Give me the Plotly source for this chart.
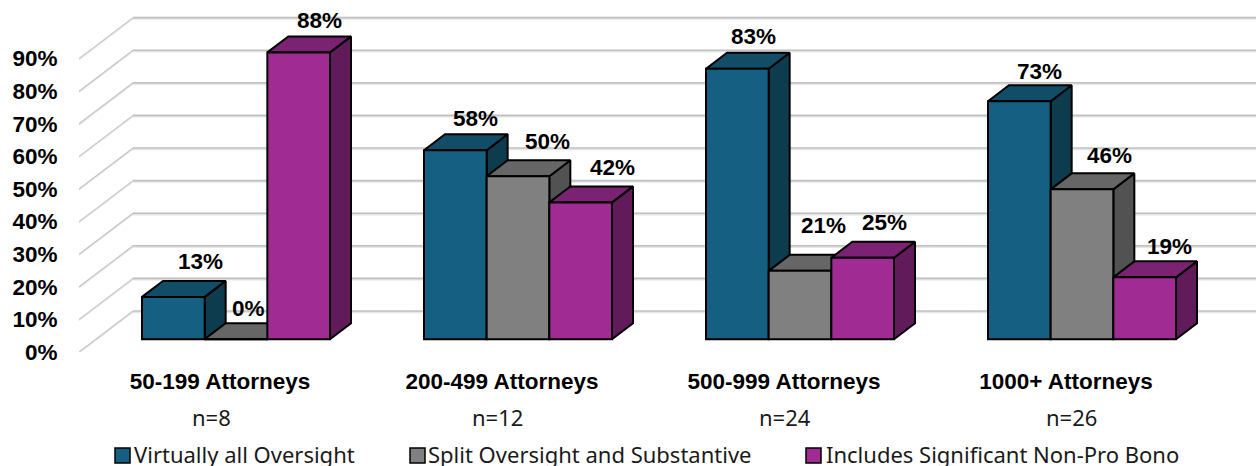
import plotly.graph_objects as go

categories = ["50-199 Attorneys", "200-499 Attorneys", "500-999 Attorneys", "1000+ Attorneys"]
sample_sizes = ["n=8", "n=12", "n=24", "n=26"]
series_names = ["Virtually all Oversight", "Split Oversight and Substantive", "Includes Significant Non-Pro Bono"]
virtually_all = [13, 58, 83, 73]
split_oversight = [0, 50, 21, 46]
non_pro_bono = [88, 42, 25, 19]
y_ticks = [0, 10, 20, 30, 40, 50, 60, 70, 80, 90]

series_values = [virtually_all, split_oversight, non_pro_bono]
front_colors = ["#156082", "#808080", "#A02B93"]
top_colors = ["#124D68", "#666666", "#7C2272"]
side_colors = ["#0E3C4F", "#525252", "#621B5A"]

W, H = 1256, 466
L, B = 79, 114
PX_X = 282.0    # pixels per category
PX_Y = 3.26     # pixels per percentage point
plot_w, plot_h = W - L, H - B
x0, x1 = -0.5, -0.5 + plot_w / PX_X
y1 = plot_h / PX_Y

WALL_DX, WALL_DY = 54 / PX_X, 41 / PX_Y
BAR_DX, BAR_DY = 21 / PX_X, 16 / PX_Y
BASE = 12.7 / PX_Y
BAR_W = 2 / 9
GROUP_LEFT = -0.2766

# label nudges in pixels relative to the centre of each bar's front-top edge
nudge_x = [[27, 20, 16, 20], [12, 29, 23, 27], [21, 32, 22, 25]]
nudge_y = [[35, 32, 32, 30], [31, 35, 45, 34], [32, 35, 35, 31]]
n_nudge_x = [-9, -5, 1, 5]

fig = go.Figure()


def wall_points(dy):
    xs, ys = [], []
    for t in y_ticks:
        xs += [x0 + WALL_DX, x1, None]
        ys += [t + WALL_DY + dy, t + WALL_DY + dy, None]
    return xs, ys


def floor_points(dy):
    xs, ys = [], []
    for t in y_ticks:
        xs += [x0, x0 + WALL_DX, None]
        ys += [t + dy, t + WALL_DY + dy, None]
    return xs, ys


for points, dy, color, width in [
    (wall_points, -1.2 / PX_Y, "#E6E6E6", 2),
    (floor_points, -1.0 / PX_Y, "#E6E6E6", 1.5),
    (wall_points, 0, "#C0C0C0", 1.6),
    (floor_points, 0, "#C4C4C4", 1.1),
]:
    xs, ys = points(dy)
    fig.add_trace(go.Scatter(x=xs, y=ys, mode="lines", line=dict(color=color, width=width),
                             showlegend=False, hoverinfo="skip", zorder=0))

for s, vals in enumerate(series_values):
    side_x, side_y, top_x, top_y = [], [], [], []
    lefts = [i + GROUP_LEFT + s * BAR_W for i in range(len(vals))]
    for left, v in zip(lefts, vals):
        r = left + BAR_W
        t = BASE + v
        side_x += [r, r + BAR_DX, r + BAR_DX, r, r, None]
        side_y += [BASE, BASE + BAR_DY, t + BAR_DY, t, BASE, None]
        top_x += [left, left + BAR_DX, r + BAR_DX, r, left, None]
        top_y += [t, t + BAR_DY, t + BAR_DY, t, t, None]
    for xs, ys, color in [(side_x, side_y, side_colors[s]), (top_x, top_y, top_colors[s])]:
        fig.add_trace(go.Scatter(x=xs, y=ys, mode="lines", fill="toself", fillcolor=color,
                                 line=dict(color="#000000", width=2), showlegend=False,
                                 hoverinfo="skip", zorder=2 * s + 1))
    fig.add_trace(go.Bar(x=list(range(len(vals))), y=vals, base=[BASE] * len(vals),
                         width=BAR_W, offset=GROUP_LEFT + s * BAR_W, name=series_names[s],
                         marker=dict(color=front_colors[s], line=dict(color="#000000", width=2)),
                         showlegend=False, zorder=2 * s + 2))

annotations = []
LABEL_FONT = dict(family="Liberation Sans", size=22.5, color="#000000")
for s, vals in enumerate(series_values):
    for i, v in enumerate(vals):
        annotations.append(dict(x=i + GROUP_LEFT + (s + 0.5) * BAR_W, y=BASE + v, xref="x", yref="y",
                                text=f"<b>{v}%</b>", showarrow=False, font=LABEL_FONT,
                                xshift=nudge_x[s][i], yshift=nudge_y[s][i],
                                xanchor="center", yanchor="middle"))

BODY_FONT = dict(family="Noto Sans", size=22, color="#1a1a1a")


def paper_x(px):
    return (px - L) / plot_w


def paper_y(py):
    return (H - B - py) / plot_h


for i, n in enumerate(sample_sizes):
    annotations.append(dict(x=i, y=paper_y(417), xref="x", yref="paper", text=n, showarrow=False,
                            font=BODY_FONT, xanchor="center", yanchor="middle", xshift=n_nudge_x[i]))

swatch_left = [115, 410, 806]
text_left = [134, 428, 826]
shapes = []
for s, name in enumerate(series_names):
    annotations.append(dict(x=paper_x(text_left[s]), y=paper_y(454), xref="paper", yref="paper", text=name,
                            showarrow=False, font=BODY_FONT, xanchor="left", yanchor="middle", xshift=-2))
    shapes.append(dict(type="rect", xref="paper", yref="paper",
                       x0=paper_x(swatch_left[s]), x1=paper_x(swatch_left[s] + 15),
                       y0=paper_y(463), y1=paper_y(448),
                       fillcolor=front_colors[s], line=dict(color="#000000", width=1.5)))

fig.update_layout(
    width=W, height=H, margin=dict(l=L, r=0, t=0, b=B, pad=0), autosize=False,
    paper_bgcolor="#FFFFFF", plot_bgcolor="#FFFFFF", showlegend=False, barmode="overlay",
    annotations=annotations, shapes=shapes,
    xaxis=dict(range=[x0, x1], tickmode="array", tickvals=list(range(len(categories))),
               ticktext=[f"<b>{c}</b>" for c in categories], showgrid=False, zeroline=False, showline=False,
               ticks="outside", ticklen=9, tickcolor="rgba(0,0,0,0)",
               tickfont=dict(family="Liberation Sans", size=22.5, color="#000000")),
    yaxis=dict(range=[0, y1], tickmode="array", tickvals=y_ticks, ticktext=[f"<b>{t}%</b>" for t in y_ticks],
               showgrid=False, zeroline=False, showline=False, ticks="outside", ticklen=16,
               tickcolor="rgba(0,0,0,0)", tickfont=dict(family="Liberation Sans", size=22.5, color="#000000")),
)
fig.write_html("out.html", config={"displayModeBar": False},
               post_script="document.documentElement.style.overflow='hidden';document.body.style.margin='0';")
